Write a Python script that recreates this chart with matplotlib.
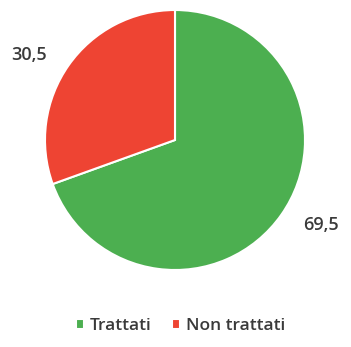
import numpy as np
import matplotlib.pyplot as plt

# dati
categorie = ['Trattati', 'Non trattati']
valori = [69.5, 30.5]
etichette = ['69,5', '30,5']
colori = ['#4CAF50', '#EE4433']

plt.rcParams['font.family'] = ['Open Sans', 'DejaVu Sans']

fig = plt.figure(figsize=(3.51, 3.47), dpi=100)
ax = fig.add_axes([45 / 351, 77 / 347, 260 / 351, 260 / 347])

wedges, _ = ax.pie(valori, colors=colori, startangle=90, counterclock=False,
                   wedgeprops=dict(edgecolor='white', linewidth=1.5))

# etichette dei valori fuori dalla torta
for w, lab in zip(wedges, etichette):
    ang = np.deg2rad((w.theta1 + w.theta2) / 2 + 5)
    r = 1.3
    ax.text(r * np.cos(ang), r * np.sin(ang), lab, ha='center', va='center',
            fontsize=13, color='#3a3a3a', fontweight='semibold')

ax.set_xlim(-1, 1)
ax.set_ylim(-1, 1)
ax.set_aspect('equal')
ax.axis('off')

fig.legend(wedges, categorie, loc='center', bbox_to_anchor=(0.515, 0.06),
           ncol=2, frameon=False, handlelength=0.45, handleheight=0.45,
           handletextpad=0.35, columnspacing=1.2, labelcolor='#3a3a3a',
           prop=dict(family=['Open Sans', 'DejaVu Sans'], size=12.5,
                     weight='semibold'))

fig.savefig('out.png', dpi=100)
